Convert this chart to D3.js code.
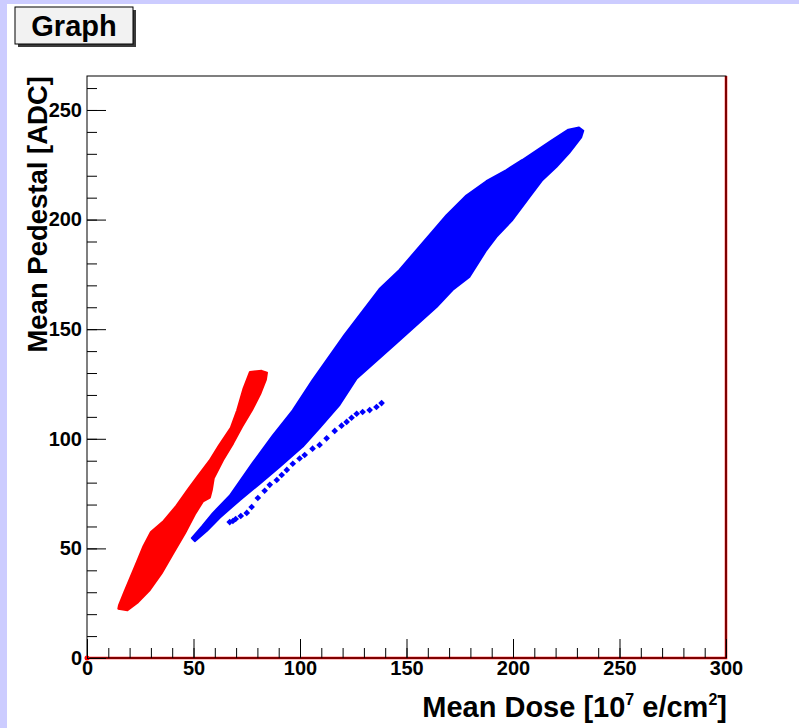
<!DOCTYPE html>
<html><head><meta charset="utf-8">
<script src="https://cdn.jsdelivr.net/npm/d3@7"></script>
<style>
html,body{margin:0;padding:0;background:#ccccff;}
svg{display:block;font-family:"Liberation Sans",Arial,Helvetica,sans-serif;}
</style></head>
<body>
<script>
// ---- data (data units) ----
const xTickValues = [0, 50, 100, 150, 200, 250, 300];
const yTickValues = [0, 50, 100, 150, 200, 250];
const xMinorTicks = d3.range(0, 301, 10);
const yMinorTicks = d3.range(0, 261, 10);

// red cloud envelope: left edge (top->bottom) then right edge (bottom->top)
const redLeftEdge = [[76.5,130.5],[73.5,123.0],[70.5,113.0],[67.5,105.0],[62.0,97.0],[57.5,90.0],[52.0,83.0],[47.5,77.0],[42.0,69.5],[36.0,62.5],[30.0,57.5],[26.5,51.0],[23.5,44.0],[20.5,37.0],[17.5,30.0],[15.0,24.0],[14.7,22.5]];
const redRightEdge = [[19.0,21.8],[24.0,25.5],[29.5,31.0],[35.0,38.6],[40.5,47.8],[46.0,56.9],[50.6,65.5],[54.5,71.5],[57.7,73.2],[58.6,76.6],[59.5,82.0],[63.9,90.3],[68.6,97.9],[72.8,105.5],[77.5,113.1],[81.5,120.8],[84.0,127.0],[84.5,130.2],[82.0,131.0]];

// blue dense cloud envelope: upper edge (low->high), lower edge (high->low)
const blueUpperEdge = [[49.2,54.7],[54.0,60.0],[59.1,66.1],[67.0,74.0],[77.8,89.0],[87.2,101.5],[96.6,113.0],[105.9,126.8],[120.9,147.4],[137.3,168.3],[146.7,177.0],[157.5,189.3],[168.8,202.0],[178.1,211.0],[187.5,217.5],[196.9,222.6],[204.4,227.2],[218.4,236.3],[226.0,241.0],[231.0,242.0],[233.0,240.5]];
const blueLowerEdge = [[232.0,237.5],[226.4,230.4],[220.3,224.0],[213.8,218.1],[209.1,212.1],[199.7,199.8],[192.2,192.1],[187.5,186.1],[179.5,173.8],[171.6,167.9],[164.1,160.1],[145.3,143.7],[126.6,127.5],[118.6,115.5],[109.2,105.0],[101.3,96.5],[90.5,87.3],[81.1,79.5],[71.7,72.0],[62.3,64.0],[56.3,58.0],[50.6,53.3]];

// blue sparse lower branch (individual points)
const blueBranch = [[67.0,62.0],[68.5,62.5],[69.8,63.4],[72.2,64.8],[75.0,66.2],[77.3,68.9],[80.2,73.0],[83.4,76.3],[85.8,79.0],[89.1,81.2],[91.4,83.5],[93.8,85.8],[96.6,88.6],[99.8,91.0],[102.2,92.6],[105.9,95.5],[109.2,97.2],[112.5,100.2],[116.3,103.6],[119.5,106.0],[121.9,107.7],[124.2,109.6],[126.6,111.4],[129.4,112.2],[132.7,113.1],[135.9,114.5],[138.3,116.3]];

// red polyline along the frame (bottom and right edge) and point at origin
const redFrameLine = [[0,0],[300,0],[300,265.5]];
const redOrigin = [[0,0]];

// ---- layout ----
const W = 799, H = 728;
const fx0 = 87, fx1 = 726, fy0 = 76, fy1 = 658;

const svg = d3.select("body").append("svg").attr("width", W).attr("height", H);
svg.append("rect").attr("x", 7).attr("y", 4).attr("width", W - 7).attr("height", H - 4).attr("fill", "#ffffff");

const x = d3.scaleLinear().domain([0, 300]).range([fx0, fx1]);
const y = d3.scaleLinear().domain([0, 265.5]).range([fy1, fy0]);

// title box
svg.append("rect").attr("x", 18).attr("y", 10).attr("width", 118).attr("height", 37).attr("fill", "#3a3a3a");
svg.append("rect").attr("x", 15).attr("y", 7).attr("width", 118).attr("height", 37).attr("fill", "#f2f2f2").attr("stroke", "#000").attr("stroke-width", 1);
svg.append("text").attr("x", 74).attr("y", 36).attr("text-anchor", "middle").attr("font-weight", "bold").attr("font-size", 29).attr("fill", "#000").text("Graph");

// data
const line = d3.line().x(d => x(d[0])).y(d => y(d[1]));
const gData = svg.append("g");

gData.append("path").datum(redLeftEdge.concat(redRightEdge))
  .attr("d", line.curve(d3.curveLinearClosed))
  .attr("fill", "#ff0000").attr("stroke", "#ff0000").attr("stroke-width", 2).attr("stroke-linejoin", "round");

gData.append("path").datum(blueUpperEdge.concat(blueLowerEdge))
  .attr("d", line.curve(d3.curveLinearClosed))
  .attr("fill", "#0000ff").attr("stroke", "#0000ff").attr("stroke-width", 2).attr("stroke-linejoin", "round");

const mk = d3.symbol().type(d3.symbolSquare).size(22);
gData.selectAll("path.br").data(blueBranch).enter().append("path").attr("class", "br")
  .attr("d", mk).attr("transform", d => `translate(${x(d[0])},${y(d[1])}) rotate(45)`)
  .attr("fill", "#0000ff");

// frame
svg.append("rect").attr("x", fx0).attr("y", fy0).attr("width", fx1 - fx0).attr("height", fy1 - fy0)
  .attr("fill", "none").attr("stroke", "#000").attr("stroke-width", 1);

gData.append("path").datum(redFrameLine).attr("d", line.curve(d3.curveLinear))
  .attr("fill", "none").attr("stroke", "#ff0000").attr("stroke-width", 2.5);
svg.selectAll("circle.org").data(redOrigin).enter().append("circle")
  .attr("cx", d => x(d[0])).attr("cy", d => y(d[1])).attr("r", 2.5).attr("fill", "#ff0000");

// axes
const axFont = 20;
const xMinor = svg.append("g").attr("transform", `translate(0,${fy1})`)
  .call(d3.axisBottom(x).tickValues(xMinorTicks).tickSize(-10).tickFormat(""));
const xMajor = svg.append("g").attr("transform", `translate(0,${fy1})`)
  .call(d3.axisBottom(x).tickValues(xTickValues).tickSize(-19).tickPadding(3).tickFormat(d3.format("d")));
const yMinor = svg.append("g").attr("transform", `translate(${fx0},0)`)
  .call(d3.axisLeft(y).tickValues(yMinorTicks).tickSize(-10).tickFormat(""));
const yMajor = svg.append("g").attr("transform", `translate(${fx0},0)`)
  .call(d3.axisLeft(y).tickValues(yTickValues).tickSize(-19).tickPadding(5).tickFormat(d3.format("d")));
[xMinor, xMajor, yMinor, yMajor].forEach(g => {
  g.attr("font-size", axFont).attr("font-family", "Liberation Sans, Arial, sans-serif");
  g.select(".domain").remove();
  g.selectAll("line").attr("stroke", "#000").attr("stroke-width", 1);
  g.selectAll("text").style("font-family", "Liberation Sans, Arial, sans-serif").style("font-weight", "bold").style("font-size", axFont + "px").attr("fill", "#000");
});

// axis titles
const xt = svg.append("text").attr("x", fx1 + 1).attr("y", 717).attr("text-anchor", "end")
  .attr("font-weight", "bold").attr("font-size", 29).attr("fill", "#000");
xt.append("tspan").text("Mean Dose [10");
xt.append("tspan").attr("font-size", 16).attr("dy", -12).text("7");
xt.append("tspan").attr("dy", 12).text(" e/cm");
xt.append("tspan").attr("font-size", 16).attr("dy", -12).text("2");
xt.append("tspan").attr("dy", 12).text("]");

svg.append("text").attr("transform", `translate(47,${fy0}) rotate(-90)`).attr("text-anchor", "end")
  .attr("font-weight", "bold").attr("font-size", 27.5).attr("fill", "#000").text("Mean Pedestal [ADC]");
</script>
</body></html>
